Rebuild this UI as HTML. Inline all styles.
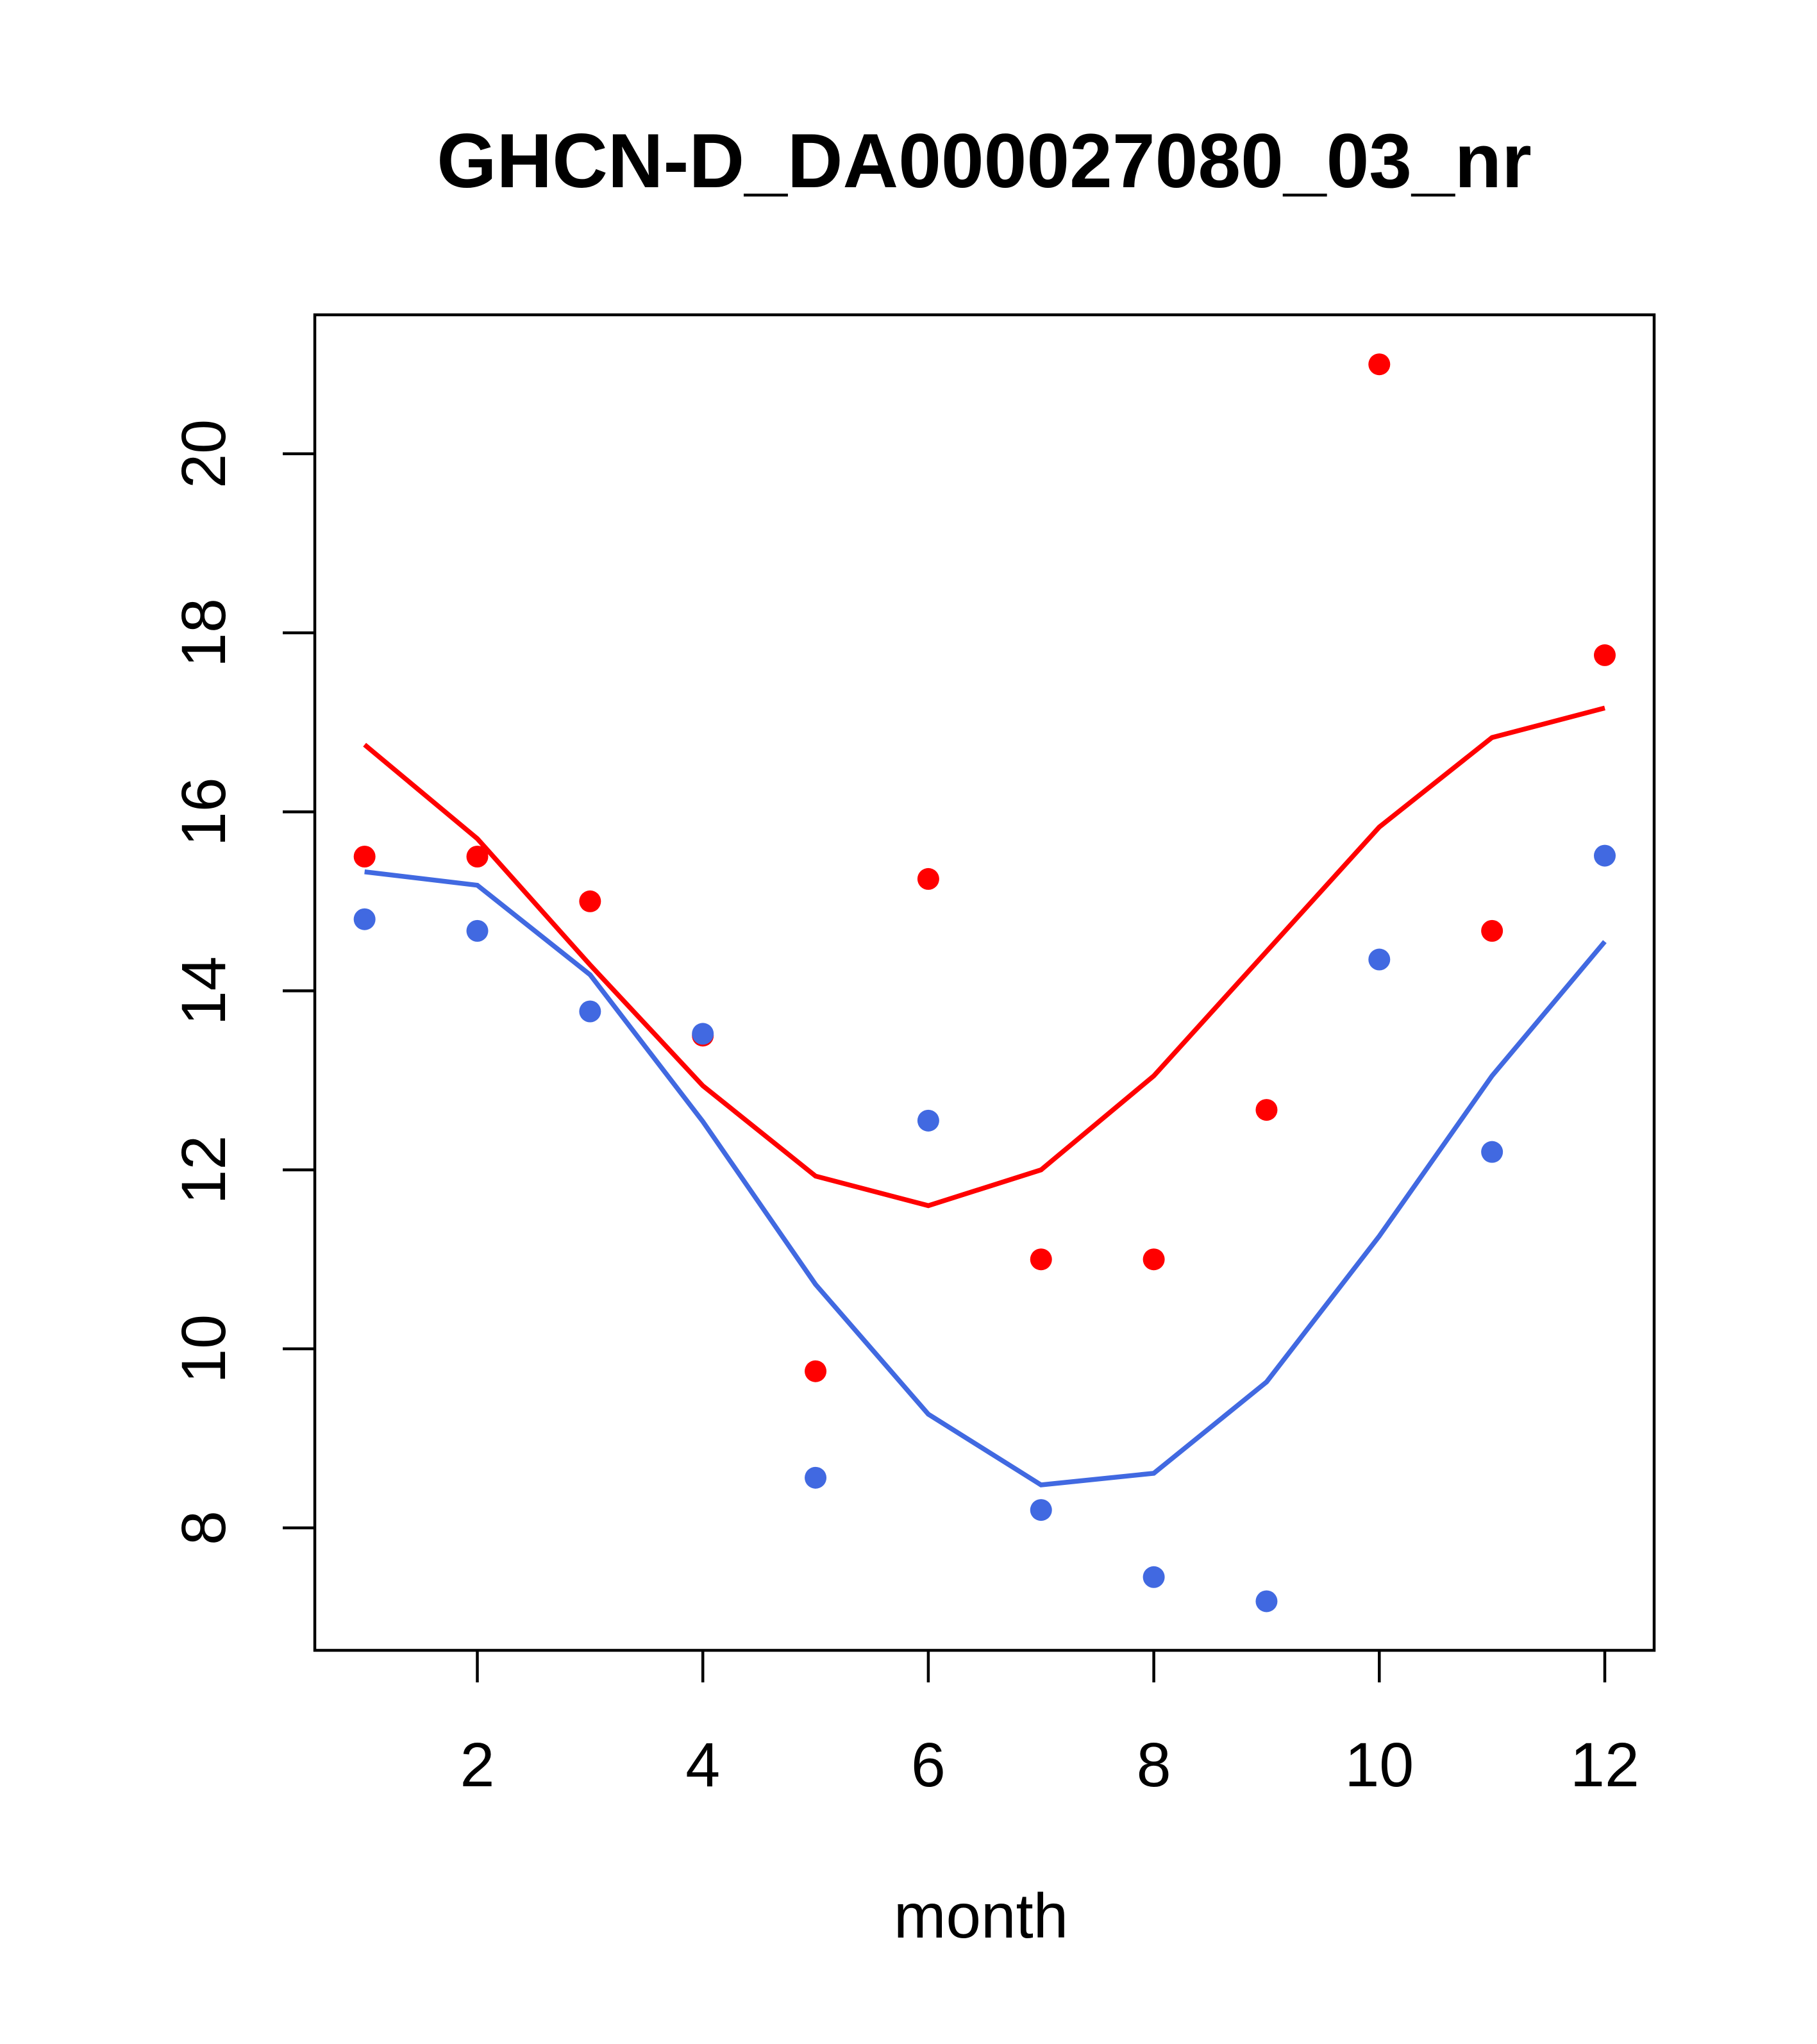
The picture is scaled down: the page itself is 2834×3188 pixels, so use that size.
<!DOCTYPE html>
<html><head><meta charset="utf-8"><style>body{margin:0;background:#fff}svg{display:block}</style></head>
<body>
<svg id="chart" width="2834" height="3188" xmlns="http://www.w3.org/2000/svg" font-family="'Liberation Sans', Arial, sans-serif"></svg>
<script>
const months=[1,2,3,4,5,6,7,8,9,10,11,12];
const redPoints=[15.5,15.5,15.0,13.5,9.75,15.25,11.0,11.0,12.67,21.0,14.67,17.75];
const bluePoints=[14.8,14.67,13.77,13.52,8.56,12.55,8.2,7.45,7.18,14.35,12.2,15.51];
const redLine=[16.75,15.7,14.29,12.94,11.93,11.6,12.0,13.05,14.44,15.83,16.83,17.16];
const blueLine=[15.33,15.18,14.18,12.54,10.72,9.27,8.48,8.61,9.63,11.26,13.05,14.55];
const xTicks=[2,4,6,8,10,12];
const yTicks=[8,10,12,14,16,18,20];

const svg=document.getElementById('chart');
const NS='http://www.w3.org/2000/svg';
const L=491,R=2580,T=491,B=2574;
function xs(m){return 744.5+(m-2)*175.85;}
function ys(v){return 2383-(v-8)*139.6;}
function mk(tag,attrs){const e=document.createElementNS(NS,tag);for(const k in attrs)e.setAttribute(k,attrs[k]);svg.appendChild(e);return e;}

let t=mk('text',{x:1535,y:292,'font-size':120,'font-weight':'bold','text-anchor':'middle'});


t.textContent='GHCN-D_DA000027080_03_nr';

let box=mk('rect',{x:L,y:T,width:R-L,height:B-T,fill:'none',stroke:'#000','stroke-width':4.5});



xTicks.forEach(v=>{
  const l=mk('line',{x1:xs(v),x2:xs(v),y1:B,y2:B+50,stroke:'#000','stroke-width':4.5});
  
  
  const tx=mk('text',{x:xs(v),y:2786,'font-size':97,'text-anchor':'middle'});
  
  
  tx.textContent=v;
});
yTicks.forEach(v=>{
  const l=mk('line',{x1:L-50,x2:L,y1:ys(v),y2:ys(v),stroke:'#000','stroke-width':4.5});
  
  
  const tx=mk('text',{x:0,y:0,'font-size':97,'text-anchor':'middle',transform:`translate(351,${ys(v)}) rotate(-90)`});
  
  
  tx.textContent=v;
});
let xl=mk('text',{x:1530,y:3022,'font-size':98,'text-anchor':'middle'});


xl.textContent='month';

function line(vals,color,name){
  const p=mk('polyline',{points:vals.map((v,i)=>xs(months[i])+','+ys(v)).join(' '),fill:'none',stroke:color,'stroke-width':7.5});
  
  
}
function pts(vals,color,name){
  vals.forEach((v,i)=>{
    const c=mk('circle',{cx:xs(months[i]),cy:ys(v),r:17,fill:color});
    
    
  });
}
line(redLine,'#ff0000','red-line');
line(blueLine,'#4169e1','blue-line');
pts(redPoints,'#ff0000','red-point');
pts(bluePoints,'#4169e1','blue-point');
</script>
</body></html>
